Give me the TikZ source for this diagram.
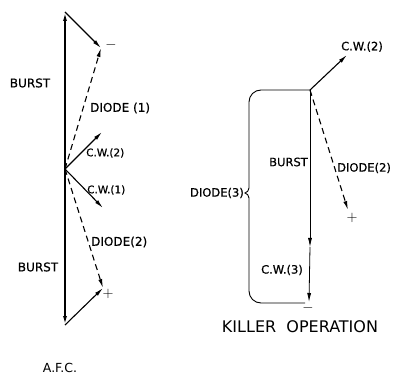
\documentclass[tikz,border=0pt]{standalone}
\usepackage{fontspec}
\setmainfont{DejaVu Sans}
\newfontfamily\lettering[FakeBold=0.6]{DejaVu Sans}
\usetikzlibrary{arrows.meta, positioning}

\begin{document}
\begin{tikzpicture}[
			x=1pt, y=1pt,
			% vector styles
			vec/.style={-{Latex[length=9pt,width=4pt]}, line width=1.1pt},
			burst/.style={vec, line width=1.6pt},
			diode/.style={vec, dash pattern=on 6pt off 4pt},
			brace/.style={line width=0.9pt, rounded corners=12pt},
			% text styles
			lbl/.style={font=\lettering\fontsize{12}{12}\selectfont, inner sep=0pt},
			small/.style={font=\lettering\fontsize{10.5}{10.5}\selectfont, inner sep=0pt},
			right/.style={font=\lettering\fontsize{11.5}{11.5}\selectfont, inner sep=0pt},
			sign/.style={font=\fontsize{15}{15}\selectfont, inner sep=0pt},
			title/.style={font=\fontsize{12.5}{12.5}\selectfont, inner sep=0pt},
			]
			\useasboundingbox (0,0) rectangle (394,-377);
			
			% A.F.C.
			\coordinate (O) at (65,-169);
			\coordinate (T) at (65,-12);
			\coordinate (B) at (65,-325);
			\coordinate (M) at (101,-48);
			\coordinate (P) at (103,-288);
			\coordinate (cwB) at (102,-132);
			\coordinate (cwA) at (103,-208);
			
			\draw[burst] (O) -- (T);
			\draw[burst] (O) -- (B);
			\draw[vec] (T) -- (M);
			\draw[vec] (B) -- (P);
			\draw[diode] (O) -- (M);
			\draw[diode] (O) -- (P);
			\draw[vec] (O) -- (cwB);
			\draw[vec] (O) -- (cwA);
			
			\node[sign] (minusL) at (111,-45) {$-$};
			\node[sign] (plusL) at (108,-294) {$+$};
			\node[lbl] (burstT) at (30,-83) {BURST};
			\node[lbl, anchor=west] (diodeA) at (90,-108) {DIODE (1)};
			\node[small, anchor=west] (cwBl) at (86,-153) {C.W.(2)};
			\node[small, anchor=west] (cwAl) at (87,-190) {C.W.(1)};
			\node[lbl, anchor=west] (diodeB) at (91,-242) {DIODE(2)};
			\node[lbl] (burstB) at (38,-267) {BURST};
			\node[title] (afc) at (60,-368) {A.F.C.};
			
			% KILLER OPERATION
			\coordinate (R) at (310,-90);
			\coordinate (Rcw) at (347,-55);
			\coordinate (Rd) at (348,-210);
			\coordinate (Rm) at (310,-247);
			\coordinate (Rb) at (309,-302);
			
			\draw[vec] (R) -- (Rcw);
			\draw[diode] (R) -- (Rd);
			\draw[vec, line width=0.8pt] (R) -- (Rm);
			\draw[vec, line width=0.8pt] (Rm) -- (Rb);
			\draw[brace] (R) -- (249,-90) -- (249,-188);
			\draw[line width=0.9pt] (249,-188)
				.. controls (249,-191) and (247,-192) .. (245,-193)
				.. controls (247,-194) and (249,-195) .. (249,-198);
			\draw[brace] (249,-198) -- (249,-303) -- (305,-303);
			
			\node[right, anchor=south] (cwR) at (362,-52) {C.W.(2)};
			\node[sign] (plusR) at (352,-218) {$+$};
			\node[right, anchor=west] (diodeR) at (337,-168) {DIODE(2)};
			\node[right, anchor=east] (burstR) at (308,-162) {BURST};
			\node[right, anchor=east] (cwC) at (303,-270) {C.W.(3)};
			\node[right, anchor=east] (diodeC) at (244,-193) {DIODE(3)};
			\node[sign] (minusR) at (308,-308) {$-$};
			\node[font=\fontsize{16}{16}\selectfont, inner sep=0pt] (killer) at (300,-327) {KILLER\ \ OPERATION};
\end{tikzpicture}
\end{document}
